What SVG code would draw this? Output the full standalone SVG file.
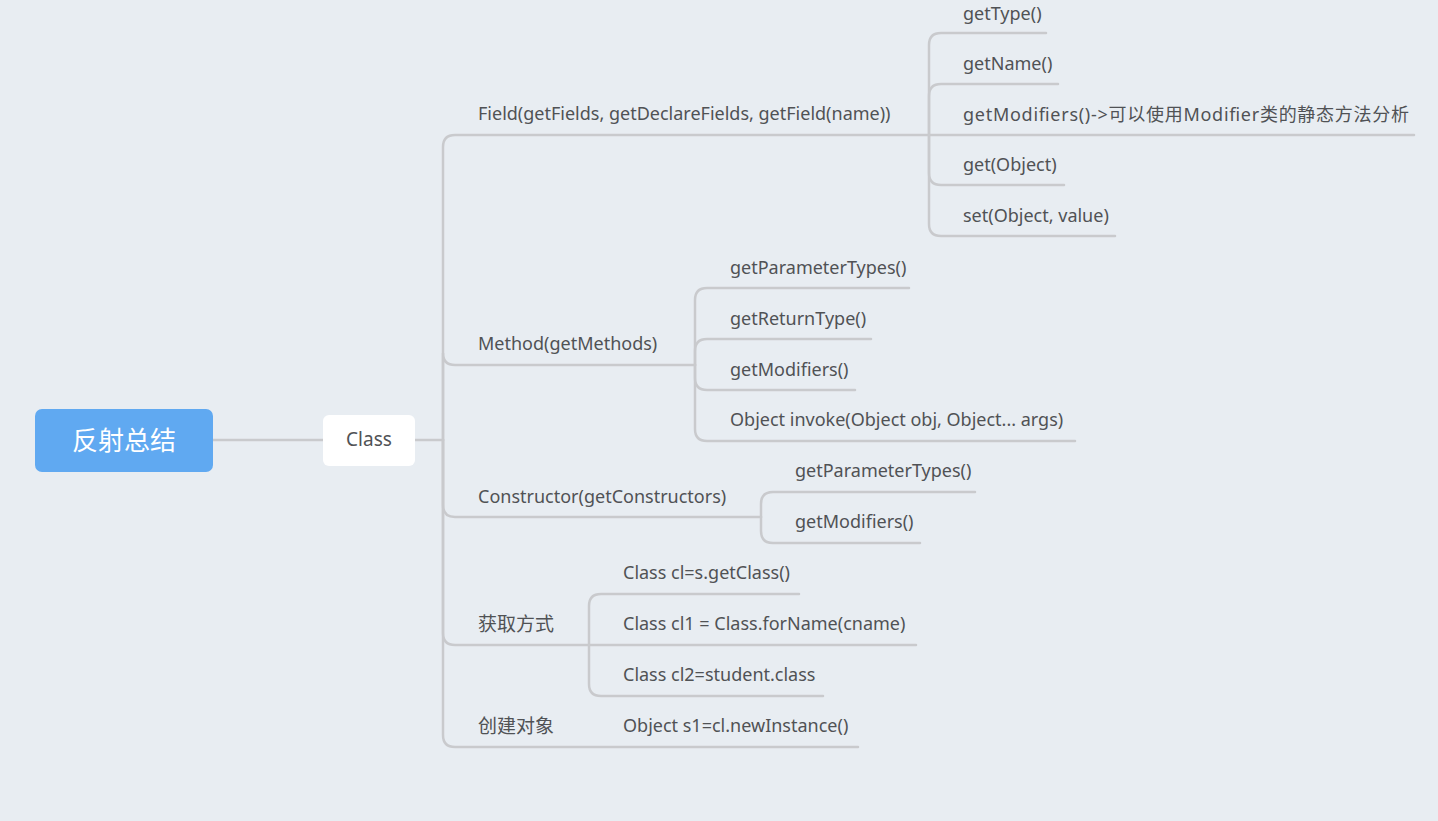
<svg xmlns="http://www.w3.org/2000/svg" width="1438" height="821" viewBox="0 0 1438 821">
<style>
.ln{fill:none;stroke:#c9cacd;stroke-width:2.5;stroke-linecap:round}
.t{font-family:"Noto Sans","Noto Sans CJK SC",sans-serif;font-size:18px;fill:#505255}
.c{font-family:"Noto Sans CJK SC","Noto Sans",sans-serif;font-size:19px;fill:#505255}
.root{font-family:"Noto Sans CJK SC","Noto Sans",sans-serif;font-size:26px;fill:#ffffff}
.cls{font-family:"Noto Sans","Noto Sans CJK SC",sans-serif;font-size:19px;fill:#505255}
</style>
<rect width="1438" height="821" fill="#e8edf2"/>
<g id="connectors">
<path class="ln" d="M213 440H323"/>
<path class="ln" d="M415 440H443"/>
<path class="ln" d="M443 440V147Q443 135 455 135H929"/>
<path class="ln" d="M443 440V353Q443 365 455 365H695"/>
<path class="ln" d="M443 440V505Q443 517 455 517H761"/>
<path class="ln" d="M443 440V633Q443 645 455 645H589"/>
<path class="ln" d="M443 440V735Q443 747 455 747H858"/>
<path class="ln" d="M929 135V45Q929 33 941 33H1046"/>
<path class="ln" d="M929 135V96Q929 84 941 84H1058"/>
<path class="ln" d="M929 135H1414"/>
<path class="ln" d="M929 135V173Q929 185 941 185H1064"/>
<path class="ln" d="M929 135V224Q929 236 941 236H1115"/>
<path class="ln" d="M695 365V300Q695 288 707 288H909"/>
<path class="ln" d="M695 365V351Q695 339 707 339H871"/>
<path class="ln" d="M695 365V378Q695 390 707 390H855"/>
<path class="ln" d="M695 365V429Q695 441 707 441H1075"/>
<path class="ln" d="M761 517V504Q761 492 773 492H975"/>
<path class="ln" d="M761 517V531Q761 543 773 543H920"/>
<path class="ln" d="M589 645V606Q589 594 601 594H799"/>
<path class="ln" d="M589 645H916"/>
<path class="ln" d="M589 645V684Q589 696 601 696H823"/>
</g>
<g id="root">
<rect x="35" y="409" width="178" height="63" rx="7" fill="#60a9f1"/>
<text class="root" x="124" y="450" text-anchor="middle">反射总结</text>
</g>
<g id="class">
<rect x="323" y="415" width="92" height="51" rx="6" fill="#ffffff"/>
<text class="cls" x="369" y="446" text-anchor="middle">Class</text>
</g>
<g id="field"><text class="t" x="478" y="120">Field(getFields, getDeclareFields, getField(name))</text></g>
<g id="field-gettype"><text class="t" x="963" y="20">getType()</text></g>
<g id="field-getname"><text class="t" x="963" y="70">getName()</text></g>
<g id="field-getmodifiers"><text class="t" x="963" y="121" textLength="446" lengthAdjust="spacing">getModifiers()-&gt;可以使用Modifier类的静态方法分析</text></g>
<g id="field-get"><text class="t" x="963" y="171">get(Object)</text></g>
<g id="field-set"><text class="t" x="963" y="222">set(Object, value)</text></g>
<g id="method"><text class="t" x="478" y="350">Method(getMethods)</text></g>
<g id="method-getparametertypes"><text class="t" x="730" y="274">getParameterTypes()</text></g>
<g id="method-getreturntype"><text class="t" x="730" y="325">getReturnType()</text></g>
<g id="method-getmodifiers"><text class="t" x="730" y="376">getModifiers()</text></g>
<g id="method-invoke"><text class="t" x="730" y="426">Object invoke(Object obj, Object... args)</text></g>
<g id="constructor"><text class="t" x="478" y="503">Constructor(getConstructors)</text></g>
<g id="constructor-getparametertypes"><text class="t" x="795" y="477">getParameterTypes()</text></g>
<g id="constructor-getmodifiers"><text class="t" x="795" y="528">getModifiers()</text></g>
<g id="obtain"><text class="c" x="478" y="631">获取方式</text></g>
<g id="obtain-getclass"><text class="t" x="623" y="579">Class cl=s.getClass()</text></g>
<g id="obtain-forname"><text class="t" x="623" y="630">Class cl1 = Class.forName(cname)</text></g>
<g id="obtain-class"><text class="t" x="623" y="681">Class cl2=student.class</text></g>
<g id="create"><text class="c" x="478" y="733">创建对象</text></g>
<g id="create-newinstance"><text class="t" x="623" y="732">Object s1=cl.newInstance()</text></g>
</svg>
